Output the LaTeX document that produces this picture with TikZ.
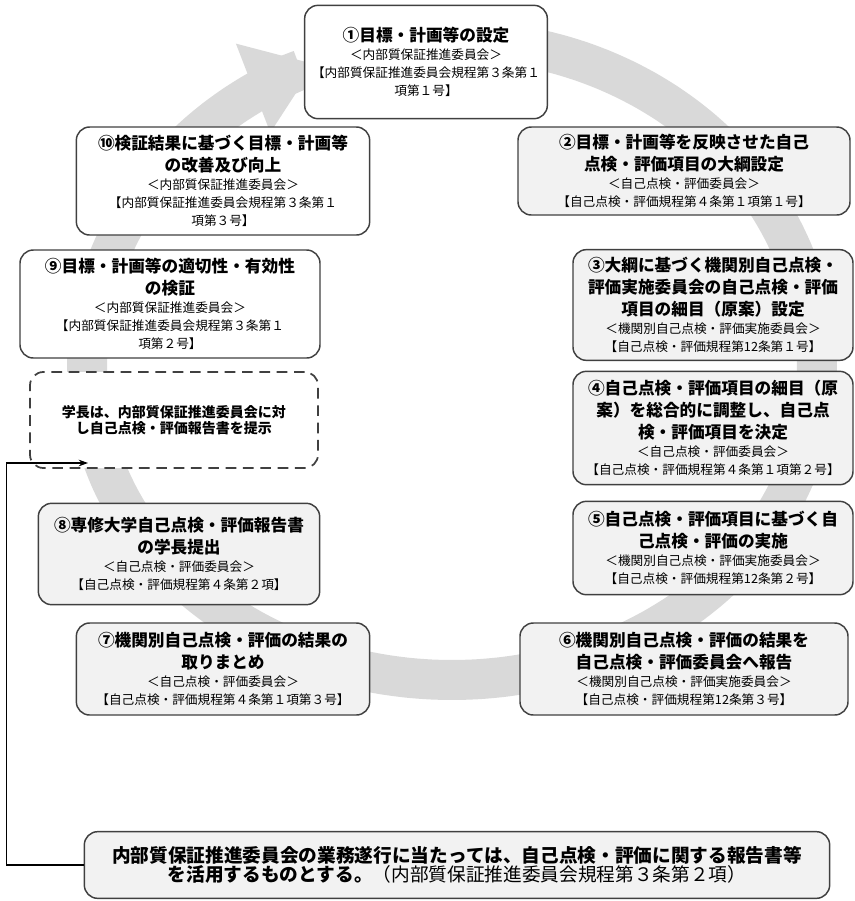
\documentclass[tikz,border=0pt]{standalone}
\usepackage{fontspec}
\setmainfont{Noto Sans CJK JP}
\usetikzlibrary{arrows.meta}

\definecolor{ringgray}{HTML}{D9D9D9}
\definecolor{boxgray}{HTML}{F2F2F2}
\definecolor{edgegray}{HTML}{404040}
\newcommand{\steptitle}{\fontsize{12.5}{16.5}\selectfont\bfseries}
\newcommand{\stepnote}{\fontsize{9.5}{13.5}\selectfont}
\newcommand{\notetitle}{\fontsize{14}{17.5}\selectfont\bfseries}

\begin{document}
\begin{tikzpicture}[x=0.75pt, y=-0.75pt]
        \useasboundingbox (0,0) rectangle (855,901);
        % big gray cycle arrow behind the boxes (upper half a little taller)
        \draw[ringgray, line width=30pt, -{Triangle[length=50pt, width=68pt]}]
                plot[smooth, samples=90, domain=-80:248] ({452+365*cos(\x)}, {370+(sin(\x)<0 ? 330 : 310)*sin(\x)});

        \begin{scope}[every node/.style={draw=edgegray, line width=1.1pt, rounded corners=10pt, fill=boxgray, inner xsep=0pt, inner ysep=2pt, align=center}]
                \node[fill=white, text width=182pt, minimum height=85pt] (S1) at (426,62)
                        {{\steptitle ①目標・計画等の設定\par}{\stepnote ＜内部質保証推進委員会＞\\【内部質保証推進委員会規程第３条第１\\項第１号】\par}};
                \node[text width=249pt, minimum height=66pt] (S2) at (684,171)
                        {{\steptitle ②目標・計画等を反映させた自己\\点検・評価項目の大綱設定\par}{\stepnote ＜自己点検・評価委員会＞\\【自己点検・評価規程第４条第１項第１号】\par}};
                \node[text width=210pt, minimum height=83pt] (S3) at (713,305)
                        {{\steptitle ③大綱に基づく機関別自己点検・\\評価実施委員会の自己点検・評価\\項目の細目（原案）設定\par}{\stepnote ＜機関別自己点検・評価実施委員会＞\\【自己点検・評価規程第12条第１号】\par}};
                \node[text width=210pt, minimum height=85pt] (S4) at (713,428)
                        {{\steptitle ④自己点検・評価項目の細目（原\\案）を総合的に調整し、自己点\\検・評価項目を決定\par}{\stepnote ＜自己点検・評価委員会＞\\【自己点検・評価規程第４条第１項第２号】\par}};
                \node[text width=210pt, minimum height=70pt] (S5) at (713,548)
                        {{\steptitle ⑤自己点検・評価項目に基づく自\\己点検・評価の実施\par}{\stepnote ＜機関別自己点検・評価実施委員会＞\\【自己点検・評価規程第12条第２号】\par}};
                \node[text width=246pt, minimum height=69pt] (S6) at (684,669)
                        {{\steptitle ⑥機関別自己点検・評価の結果を\\自己点検・評価委員会へ報告\par}{\stepnote ＜機関別自己点検・評価実施委員会＞\\【自己点検・評価規程第12条第３号】\par}};
                \node[text width=220pt, minimum height=69pt] (S7) at (223,669)
                        {{\steptitle ⑦機関別自己点検・評価の結果の\\取りまとめ\par}{\stepnote ＜自己点検・評価委員会＞\\【自己点検・評価規程第４条第１項第３号】\par}};
                \node[text width=211pt, minimum height=76pt] (S8) at (179,554)
                        {{\steptitle ⑧専修大学自己点検・評価報告書\\の学長提出\par}{\stepnote ＜自己点検・評価委員会＞\\【自己点検・評価規程第４条第２項】\par}};
                \node[fill=white, dash pattern=on 8pt off 5pt, line width=1.3pt, text width=216pt, minimum height=72pt] (R) at (174,420)
                        {\fontsize{10.5}{16}\selectfont\bfseries 学長は、内部質保証推進委員会に対\\し自己点検・評価報告書を提示};
                \node[fill=white, text width=225pt, minimum height=81pt] (S9) at (170,304)
                        {{\steptitle ⑨目標・計画等の適切性・有効性\\の検証\par}{\stepnote ＜内部質保証推進委員会＞\\【内部質保証推進委員会規程第３条第１\\項第２号】\par}};
                \node[fill=white, text width=220pt, minimum height=81pt] (S10) at (223,181)
                        {{\steptitle ⑩検証結果に基づく目標・計画等\\の改善及び向上\par}{\stepnote ＜内部質保証推進委員会＞\\【内部質保証推進委員会規程第３条第１\\項第３号】\par}};
                \node[text width=559pt, minimum height=50pt] (N) at (457,865)
                        {\notetitle 内部質保証推進委員会の業務遂行に当たっては、自己点検・評価に関する報告書等\\を活用するものとする。{\mdseries（内部質保証推進委員会規程第３条第２項）}};
        \end{scope}

        \coordinate (tip) at (88,463);
        \draw[line width=0.8pt, -{Stealth[length=7pt, width=5pt]}] (N.west) -- ++(-77,0) |- (tip);
\end{tikzpicture}
\end{document}
